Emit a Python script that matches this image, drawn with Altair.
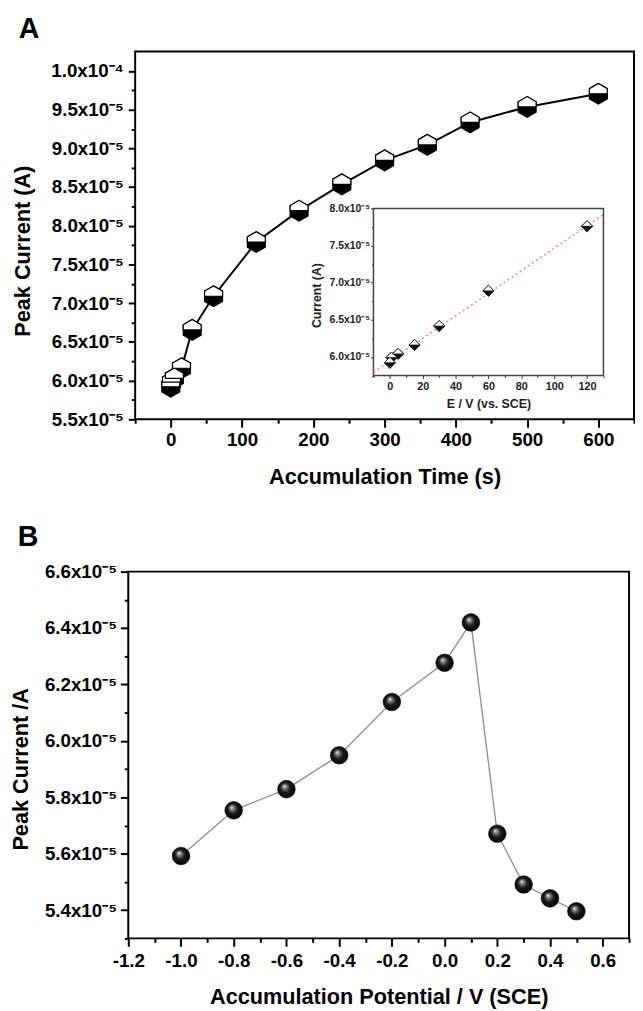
import altair as alt
import pandas as pd

# ---------------- data ----------------
# Panel A: peak current vs accumulation time
time_s = [0, 1, 5, 15, 30, 60, 120, 180, 240, 300, 360, 420, 500, 600]
peak_a = [5.92e-5, 5.98e-5, 6.03e-5, 6.16e-5, 6.655e-5, 7.09e-5, 7.79e-5,
          8.195e-5, 8.535e-5, 8.845e-5, 9.045e-5, 9.335e-5, 9.535e-5, 9.705e-5]

# Inset of panel A
inset_e = [0, 1, 5, 15, 30, 60, 120]
inset_i = [5.92e-5, 5.99e-5, 6.04e-5, 6.16e-5, 6.415e-5, 6.89e-5, 7.76e-5]
fit_e = [-10, 130]
fit_i = [5.794e-5, 7.92e-5]

# Panel B: peak current vs accumulation potential
pot_v = [-1.0, -0.8, -0.6, -0.4, -0.2, 0.0, 0.1, 0.2, 0.3, 0.4, 0.5]
peak_b = [5.592e-5, 5.754e-5, 5.829e-5, 5.949e-5, 6.138e-5, 6.277e-5, 6.42e-5,
          5.671e-5, 5.491e-5, 5.442e-5, 5.396e-5]

# axis domains
a_x_dom = [-50, 650]
a_y_dom = [5.5e-5, 1.025e-4]
in_x_dom = [-10, 130]
in_y_dom = [5.75e-5, 8.0e-5]
b_x_dom = [-1.2, 0.7]
b_y_dom = [5.3e-5, 6.6e-5]

# tick values and labels
a_x_major = [0, 100, 200, 300, 400, 500, 600]
a_x_labels = ["0", "100", "200", "300", "400", "500", "600"]
a_x_minor = [-50, 50, 150, 250, 350, 450, 550, 650]
a_y_major = [5.5e-5, 6.0e-5, 6.5e-5, 7.0e-5, 7.5e-5, 8.0e-5, 8.5e-5, 9.0e-5, 9.5e-5, 1.0e-4]
a_y_labels = ["5.5x10⁻⁵", "6.0x10⁻⁵", "6.5x10⁻⁵", "7.0x10⁻⁵", "7.5x10⁻⁵",
              "8.0x10⁻⁵", "8.5x10⁻⁵", "9.0x10⁻⁵", "9.5x10⁻⁵", "1.0x10⁻⁴"]
a_y_minor = [5.75e-5, 6.25e-5, 6.75e-5, 7.25e-5, 7.75e-5, 8.25e-5, 8.75e-5,
             9.25e-5, 9.75e-5]

in_x_major = [0, 20, 40, 60, 80, 100, 120]
in_x_labels = ["0", "20", "40", "60", "80", "100", "120"]
in_x_minor = [-10, 10, 30, 50, 70, 90, 110, 130]
in_y_major = [6.0e-5, 6.5e-5, 7.0e-5, 7.5e-5, 8.0e-5]
in_y_labels = ["6.0x10⁻⁵", "6.5x10⁻⁵", "7.0x10⁻⁵", "7.5x10⁻⁵", "8.0x10⁻⁵"]
in_y_minor = [5.75e-5, 6.25e-5, 6.75e-5, 7.25e-5, 7.75e-5]

b_x_major = [-1.2, -1.0, -0.8, -0.6, -0.4, -0.2, 0.0, 0.2, 0.4, 0.6]
b_x_labels = ["-1.2", "-1.0", "-0.8", "-0.6", "-0.4", "-0.2", "0.0", "0.2", "0.4", "0.6"]
b_x_minor = [-1.1, -0.9, -0.7, -0.5, -0.3, -0.1, 0.1, 0.3, 0.5, 0.7]
b_y_major = [5.4e-5, 5.6e-5, 5.8e-5, 6.0e-5, 6.2e-5, 6.4e-5, 6.6e-5]
b_y_labels = ["5.4x10⁻⁵", "5.6x10⁻⁵", "5.8x10⁻⁵", "6.0x10⁻⁵", "6.2x10⁻⁵", "6.4x10⁻⁵", "6.6x10⁻⁵"]
b_y_minor = [5.3e-5, 5.5e-5, 5.7e-5, 5.9e-5, 6.1e-5, 6.3e-5, 6.5e-5]

FONT = "Liberation Sans"

# ---------------- helpers ----------------
def label_expr(vals, labs, eps):
    expr = "''"
    for v, l in reversed(list(zip(vals, labs))):
        expr = f"abs(datum.value - ({float(v)!r})) < {eps} ? '{l}' : {expr}"
    return expr


def major_test(vals, eps):
    return " || ".join(f"abs(datum.value - ({float(v)!r})) < {eps}" for v in vals)


def make_axis(major, labels, minor, eps, big, small, **kw):
    return alt.Axis(
        values=[float(v) for v in sorted(major + minor)],
        labelExpr=label_expr(major, labels, eps),
        tickSize={"condition": {"test": major_test(major, eps), "value": big}, "value": small},
        grid=False, domain=False, labelFlush=False, labelOverlap=False,
        labelFont=FONT, titleFont=FONT, labelFontWeight="bold", titleFontWeight="bold",
        **kw)


HEX_FULL = "M0,-1 L0.866,-0.5 L0.866,0.5 L0,1 L-0.866,0.5 L-0.866,-0.5 Z"
HEX_TOP = "M-0.866,0 L-0.866,-0.5 L0,-1 L0.866,-0.5 L0.866,0 Z"
DIA_FULL = "M0,-1 L1,0 L0,1 L-1,0 Z"
DIA_TOP = "M-1,0 L0,-1 L1,0 Z"

# ---------------- Panel A ----------------
A_W, A_H = 513, 373
df_a = pd.DataFrame({"t": time_s, "i": peak_a})
frame_a = pd.DataFrame({"t": [a_x_dom[0]], "t2": [a_x_dom[1]], "i": [a_y_dom[0]], "i2": [a_y_dom[1]]})

ax_a_x = make_axis(a_x_major, a_x_labels, a_x_minor, 1e-6, 8, 4,
                   orient="bottom", title="Accumulation Time (s)", labelFontSize=19,
                   titleFontSize=22, labelPadding=4, titleY=48, tickWidth=2,
                   tickColor="black", labelColor="black", titleColor="black")
ax_a_y = make_axis(a_y_major, a_y_labels, a_y_minor, 1e-8, 7, 4,
                   orient="left", offset=-7, title="Peak Current (A)", labelFontSize=19,
                   titleFontSize=22, labelPadding=5, titleX=-102, titleY=202, tickWidth=2,
                   tickColor="black", labelColor="black", titleColor="black")

sx_a = alt.Scale(domain=a_x_dom, range=[7, A_W], nice=False, zero=False)
sy_a = alt.Scale(domain=a_y_dom, nice=False, zero=False)
enc_ax = alt.X("t:Q", scale=sx_a, axis=ax_a_x)
enc_ay = alt.Y("i:Q", scale=sy_a, axis=ax_a_y)

frame_a_mark = alt.Chart(frame_a).mark_rect(filled=False, stroke="black", strokeWidth=2).encode(
    x=enc_ax, x2="t2:Q", y=enc_ay, y2="i2:Q")
base_a = alt.Chart(df_a).encode(x=enc_ax, y=enc_ay)
line_a = base_a.mark_line(color="black", strokeWidth=2)
hex_b = base_a.mark_point(shape=HEX_FULL, size=441, filled=True, fill="black",
                          stroke="black", strokeWidth=1.2, opacity=1)
hex_t = base_a.mark_point(shape=HEX_TOP, size=441, filled=True, fill="white",
                          stroke="black", strokeWidth=1.2, opacity=1)
main_a = alt.layer(frame_a_mark, line_a, hex_b, hex_t)

# inset
IN_X_RANGE = [248.7, 482]
IN_Y_RANGE = [328.5, 159.2]
df_in = pd.DataFrame({"e": inset_e, "c": inset_i})
df_fit = pd.DataFrame({"e": fit_e, "c": fit_i})
frame_in = pd.DataFrame({"e": [in_x_dom[0]], "e2": [in_x_dom[1]], "c": [in_y_dom[0]], "c2": [in_y_dom[1]]})
sx_in = alt.Scale(domain=in_x_dom, range=IN_X_RANGE, nice=False, zero=False)
sy_in = alt.Scale(domain=in_y_dom, range=IN_Y_RANGE, nice=False, zero=False)

ax_in_x = make_axis(in_x_major, in_x_labels, in_x_minor, 1e-6, 3, 2,
                    orient="bottom", offset=-(A_H - IN_Y_RANGE[0]), title="E / V (vs. SCE)",
                    labelFontSize=11, titleFontSize=12.5, labelPadding=2, titleY=23,
                    tickWidth=1, tickColor="#333", labelColor="#222", titleColor="#222")
ax_in_y = make_axis(in_y_major, in_y_labels, in_y_minor, 1e-8, 3, 2,
                    orient="left", offset=-IN_X_RANGE[0], title="Current (A)",
                    labelFontSize=10.5, titleFontSize=12.5, labelPadding=1, titleX=-51,
                    titleY=247, tickWidth=1, tickColor="#333", labelColor="#222",
                    titleColor="#222")
enc_ix = alt.X("e:Q", scale=sx_in, axis=ax_in_x)
enc_iy = alt.Y("c:Q", scale=sy_in, axis=ax_in_y)

frame_in_mark = alt.Chart(frame_in).mark_rect(fill="white", stroke="#444", strokeWidth=1.5).encode(
    x=enc_ix, x2="e2:Q", y=enc_iy, y2="c2:Q")
fit_line = alt.Chart(df_fit).mark_line(color="#ee7b7b", strokeWidth=1.4, strokeDash=[2, 3]).encode(
    x=enc_ix, y=enc_iy)
base_in = alt.Chart(df_in).encode(x=enc_ix, y=enc_iy)
dia_b = base_in.mark_point(shape=DIA_FULL, size=130, filled=True, fill="#111",
                           stroke="#111", strokeWidth=0.8, opacity=1)
dia_t = base_in.mark_point(shape=DIA_TOP, size=130, filled=True, fill="white",
                           stroke="#111", strokeWidth=0.8, opacity=1)
inset = alt.layer(frame_in_mark, fit_line, dia_b, dia_t)

panel_a = alt.layer(main_a, inset).resolve_scale(x="independent", y="independent").properties(
    width=A_W, height=A_H,
    title=alt.TitleParams("A", anchor="start", frame="group", dx=-111, offset=7,
                          fontSize=29, font=FONT, fontWeight="bold", color="black"))

# ---------------- Panel B ----------------
B_W, B_H = 508, 372
df_b = pd.DataFrame({"v": pot_v, "i": peak_b})
frame_b = pd.DataFrame({"v": [b_x_dom[0]], "v2": [b_x_dom[1]], "i": [b_y_dom[0]], "i2": [b_y_dom[1]]})
sx_b = alt.Scale(domain=b_x_dom, nice=False, zero=False)
sy_b = alt.Scale(domain=b_y_dom, nice=False, zero=False)

ax_b_x = make_axis(b_x_major, b_x_labels, b_x_minor, 1e-6, 8, 4,
                   orient="bottom", title="Accumulation Potential / V (SCE)", labelFontSize=19,
                   titleFontSize=22, labelPadding=6, titleY=49, tickWidth=2,
                   tickColor="black", labelColor="black", titleColor="black")
ax_b_y = make_axis(b_y_major, b_y_labels, b_y_minor, 1e-8, 8, 4,
                   orient="left", title="Peak Current /A", labelFontSize=19,
                   titleFontSize=22, labelPadding=4, titleX=-97, titleY=200, tickWidth=2,
                   tickColor="black", labelColor="black", titleColor="black")
enc_bx = alt.X("v:Q", scale=sx_b, axis=ax_b_x)
enc_by = alt.Y("i:Q", scale=sy_b, axis=ax_b_y)

sphere = alt.RadialGradient(
    gradient="radial",
    stops=[alt.GradientStop(color="#ffffff", offset=0),
           alt.GradientStop(color="#8a8a8a", offset=0.18),
           alt.GradientStop(color="#1c1c1c", offset=0.5),
           alt.GradientStop(color="#000000", offset=1)],
    x1=0.38, y1=0.33, r1=0, x2=0.5, y2=0.5, r2=0.55)

frame_b_mark = alt.Chart(frame_b).mark_rect(filled=False, stroke="black", strokeWidth=2).encode(
    x=enc_bx, x2="v2:Q", y=enc_by, y2="i2:Q")
base_b = alt.Chart(df_b).encode(x=enc_bx, y=enc_by)
line_b = base_b.mark_line(color="#8c8c8c", strokeWidth=1.3)
pts_b = base_b.mark_point(shape="circle", size=320, filled=True, fill=sphere,
                          stroke="#000", strokeWidth=0.6, opacity=1)

panel_b = alt.layer(frame_b_mark, line_b, pts_b).properties(
    width=B_W, height=B_H,
    title=alt.TitleParams("B", anchor="start", frame="group", dx=-112, offset=11.5,
                          fontSize=29, font=FONT, fontWeight="bold", color="black"))

chart = alt.vconcat(panel_a, panel_b, spacing=35.5).properties(
    padding={"left": 2, "top": 0, "right": 0, "bottom": 0},
    background="white",
).configure_view(stroke=None)

chart.save("out.html", embed_options={"renderer": "svg", "actions": False})
